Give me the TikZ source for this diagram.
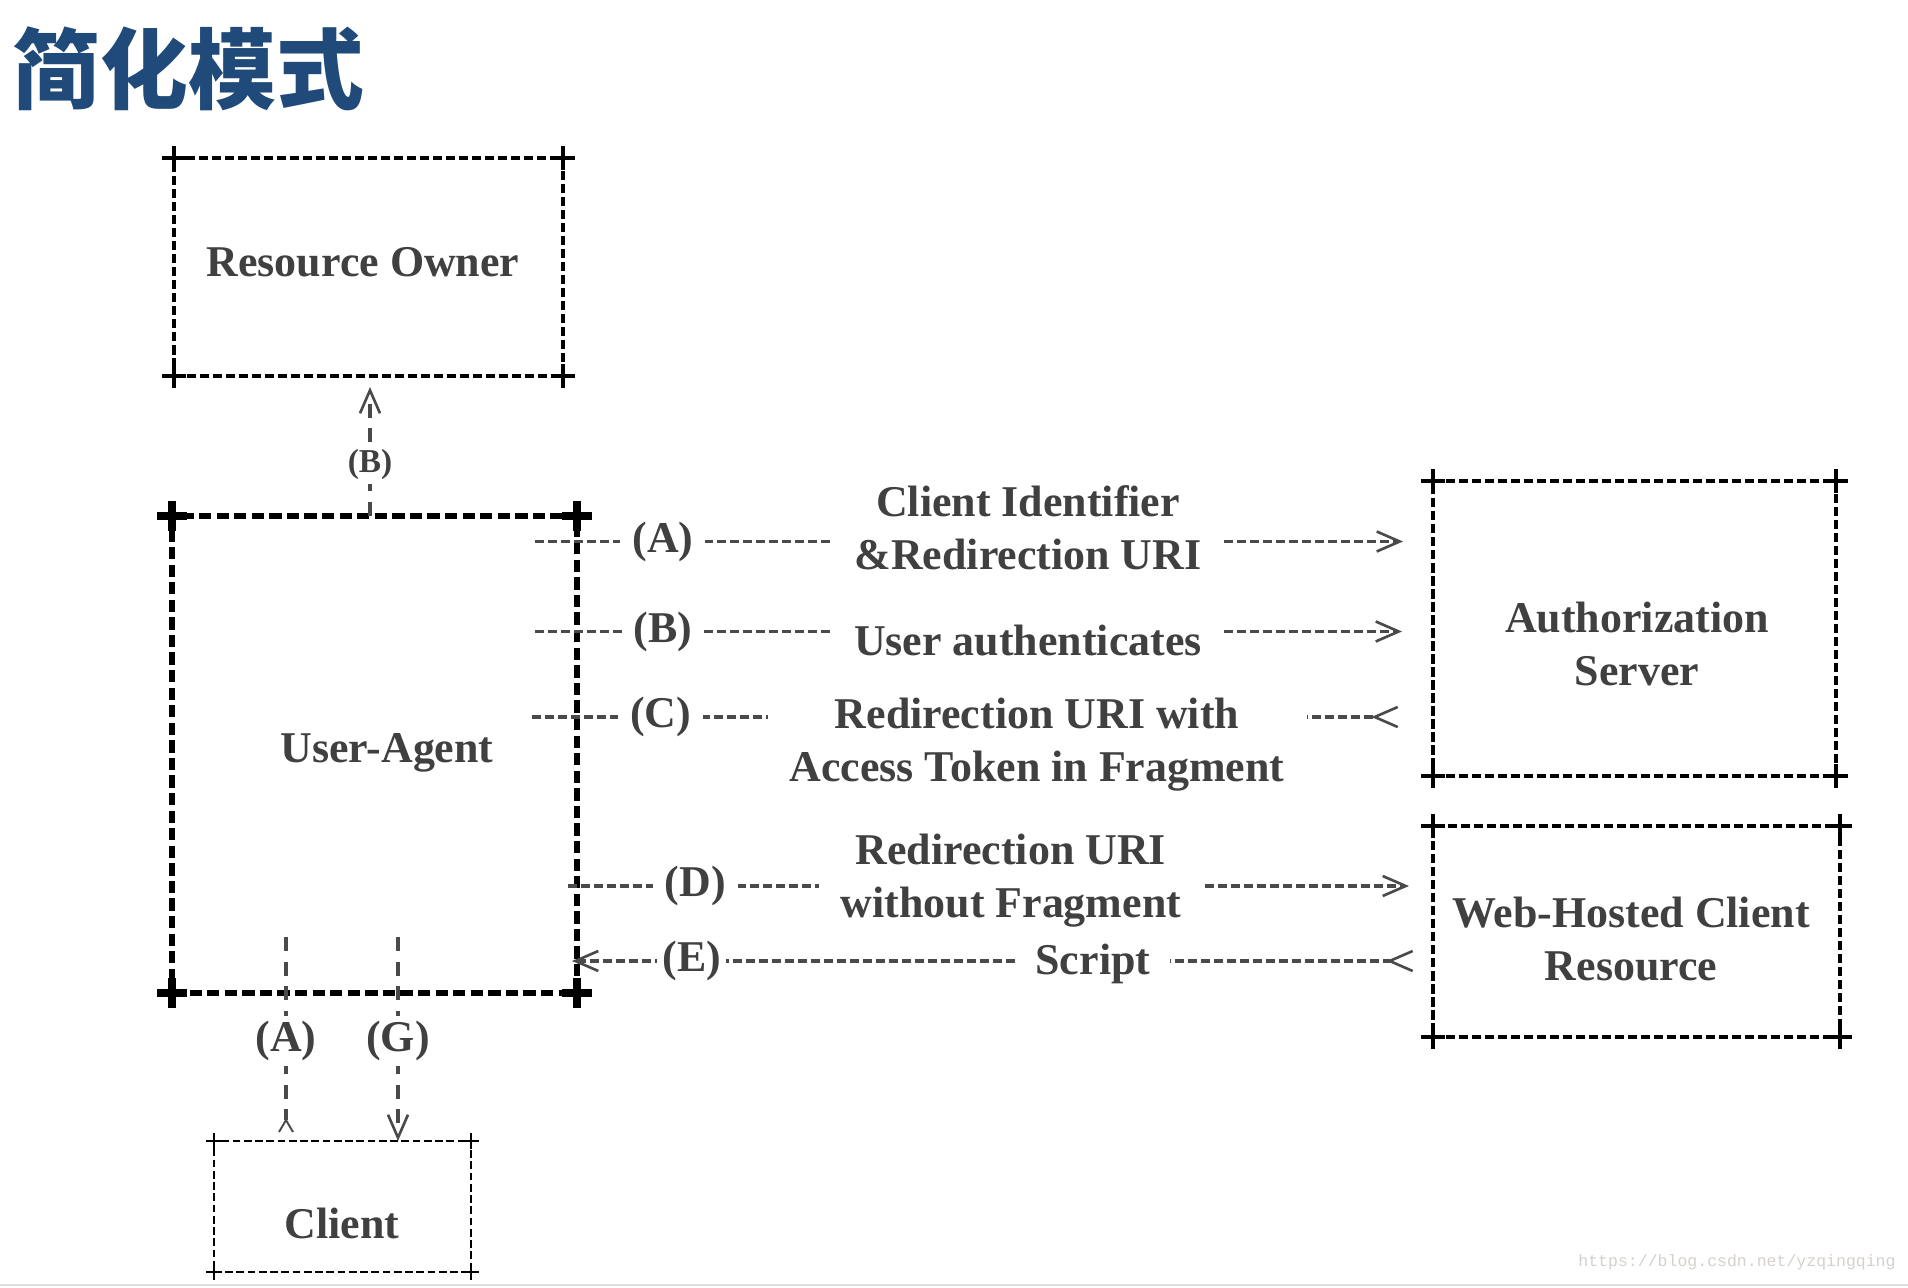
\documentclass[tikz,border=0pt]{standalone}
\usepackage{fontspec}
\setmainfont{Liberation Serif}
\setmonofont{Liberation Mono}
\newfontfamily\cjk{Noto Sans CJK SC}
\usetikzlibrary{arrows.meta}

\definecolor{ink}{HTML}{404040}
\definecolor{wire}{HTML}{4A4A4A}
\definecolor{titleblue}{RGB}{31,74,122}
\definecolor{mark}{HTML}{D4D0CC}

\tikzset{
  box/.style={draw=black,line width=1pt,dash pattern=on 2.6pt off 1.1pt,inner sep=0pt,outer sep=0pt},
  uabox/.style={box,line width=1.6pt,dash pattern=on 3.5pt off 1.5pt},
  clbox/.style={box,line width=0.75pt,dash pattern=on 2.2pt off 1pt},
  boxtext/.style={text=ink,font=\bfseries\fontsize{12.5}{15.1}\selectfont,align=center},
  flow/.style={draw=wire,line width=1.1pt,dash pattern=on 2.6pt off 1.1pt},
  vlink/.style={draw=wire,line width=1.1pt,dash pattern=on 4pt off 3pt},
  lbl/.style={fill=white,text=ink,font=\bfseries\fontsize{12.5}{15.1}\selectfont,align=center,inner xsep=0.12cm,inner ysep=0.05cm},
  msg/.style={lbl,inner xsep=0.22cm},
  chev/.tip={Straight Barb[length=2.3mm,width=2mm,line width=0.75pt]},
  chevS/.tip={Straight Barb[length=1.2mm,width=1.4mm,line width=0.55pt]}
}

\begin{document}
\begin{tikzpicture}[x=1cm,y=-1cm]
  \useasboundingbox (0,0) rectangle (19.08,12.88);

  \node[anchor=west,text=titleblue,font=\cjk\bfseries\fontsize{25}{25}\selectfont] (title) at (0.0,0.69) {简化模式};

  % boxes
  \node[box,minimum width=3.89cm,minimum height=2.18cm] (ro) at (3.685,2.67) {};
  \node[uabox,minimum width=4.05cm,minimum height=4.77cm] (ua) at (3.745,7.545) {};
  \node[box,minimum width=4.03cm,minimum height=2.95cm] (as) at (16.345,6.285) {};
  \node[box,minimum width=4.07cm,minimum height=2.11cm] (wh) at (16.365,9.315) {};
  \node[clbox,minimum width=2.57cm,minimum height=1.31cm] (cl) at (3.425,12.065) {};

  \foreach \b/\r/\w in {ro/0.12/1.1pt,as/0.12/1.1pt,wh/0.12/1pt,cl/0.08/0.75pt,ua/0.15/2.2pt}
    \foreach \c in {north west,north east,south west,south east}
      \draw[line width=\w] (\b.\c) +(-\r,0) -- +(\r,0) +(0,-\r) -- +(0,\r);

  \node[boxtext] (roText) at (3.63,2.62) {Resource Owner};
  \node[boxtext] (uaText) at (3.87,7.53) {User-Agent};
  \node[boxtext] (asText) at (16.37,6.44) {Authorization\\Server};
  \node[boxtext] (whText) at (16.31,9.39) {Web-Hosted Client\\Resource};
  \node[boxtext] (clText) at (3.42,12.23) {Client};

  % user-agent <-> authorization server / web-hosted client
  \coordinate (rowA) at (5.35,5.415);
  \coordinate (rowB) at (5.35,6.315);
  \coordinate (rowC) at (5.32,7.17);
  \coordinate (rowD) at (5.68,8.86);
  \coordinate (rowE) at (5.72,9.61);

  \draw[flow,-chev,shorten >=0.30cm] (rowA) -- (rowA -| as.west)
    node[lbl,pos=.1425] (lblA) {(A)}
    node[msg,pos=.549,yshift=0.135cm] (msgA) {Client Identifier\\\&Redirection URI};
  \draw[flow,-chev,shorten >=0.31cm] (rowB) -- (rowB -| as.west)
    node[lbl,pos=.1425] (lblB) {(B)}
    node[msg,pos=.549,yshift=-0.095cm] (msgB) {User authenticates};
  \draw[flow,-{chev[reversed]},shorten >=0.34cm] (rowC) -- (rowC -| as.west)
    node[lbl,pos=.143] (lblC) {(C)}
    node[msg,pos=.5605,yshift=-0.275cm] (msgC) {Redirection URI with\\Access Token in Fragment};
  \draw[flow,-chev,shorten >=0.24cm] (rowD) -- (rowD -| wh.west)
    node[lbl,pos=.147] (lblD) {(D)}
    node[msg,pos=.512,yshift=0.05cm] (msgD) {Redirection URI\\without Fragment};
  \draw[flow,chev-{chev[reversed]},shorten >=0.19cm] (rowE) -- (rowE -| wh.west)
    node[lbl,pos=.139,inner xsep=0.05cm] (lblE) {(E)}
    node[msg,pos=.605,inner xsep=0.2cm,yshift=-0.03cm] (msgE) {Script};

  % resource owner and client
  \coordinate (footB) at (3.70,5.16);
  \coordinate (footA) at (2.86,9.37);
  \coordinate (footG) at (3.98,9.37);

  \draw[vlink,-chev,shorten >=0.11cm] (footB) -- (footB |- ro.south)
    node[lbl,pos=.37,font=\bfseries\fontsize{9.5}{11}\selectfont,inner xsep=0.05cm] (lblRB) {(B)};
  \draw[vlink,-{chevS[reversed]},shorten >=0.08cm] (footA) -- (footA |- cl.north)
    node[lbl,pos=.51,inner xsep=0.05cm] (lblCA) {(A)};
  \draw[vlink,-chev] (footG) -- (footG |- cl.north)
    node[lbl,pos=.51,inner xsep=0.05cm] (lblCG) {(G)};

  \node[text=mark,font=\ttfamily\fontsize{4.7}{5}\selectfont] (wm) at (17.37,12.62) {https://blog.csdn.net/yzqingqing};
  \draw[mark!70,line width=0.5pt] (0,12.85) -- (19.08,12.85);
\end{tikzpicture}
\end{document}
